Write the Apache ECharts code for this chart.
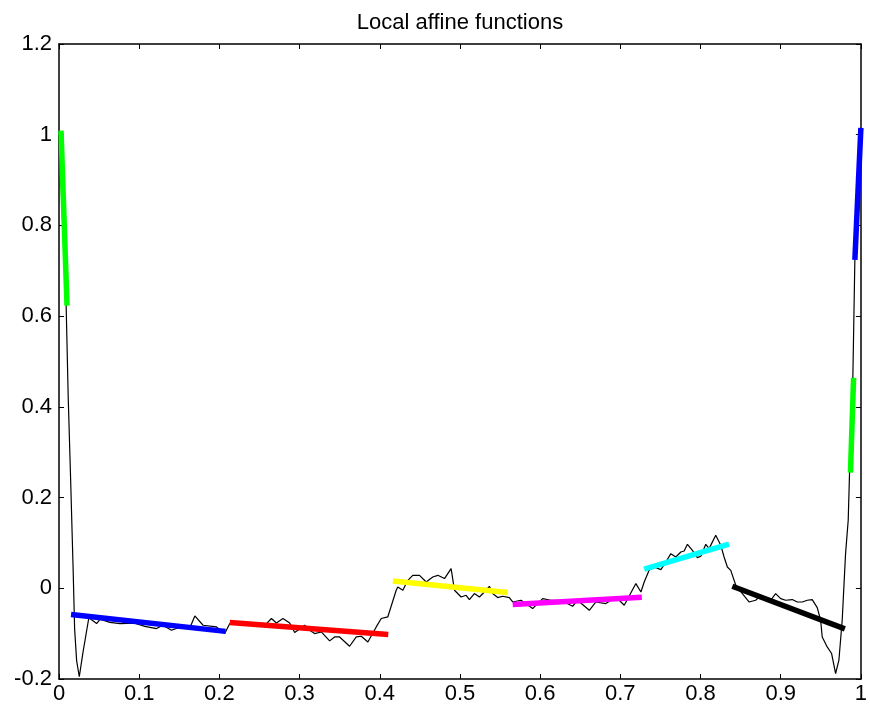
<!DOCTYPE html>
<html>
<head>
<meta charset="utf-8">
<script src="https://cdn.jsdelivr.net/npm/echarts@6/dist/echarts.min.js"></script>
<style>html,body{margin:0;padding:0;background:#fff;}#chart{width:870px;height:716px;}</style>
</head>
<body>
<div id="chart"></div>
<script>
// Noisy signal (thin black line)
const signalX = [0,0.0087,0.0115,0.0145,0.0175,0.0195,0.022,0.0253,0.030,0.0377,
0.0386,0.0469,0.0511,0.0635,0.076,0.0946,0.107,0.1217,0.1295,0.1403,0.1507,0.163,0.1694,0.1797,0.1964,0.2067,0.213,
0.240,0.2587,0.2649,0.2711,0.2793,0.2877,0.2939,0.3064,0.3126,0.3188,0.3271,0.3375,0.3437,0.3499,0.3624,0.3707,0.377,0.3852,0.3956,0.4019,0.41,0.4205,
0.4225,0.4288,0.435,0.4412,0.4496,0.4579,0.4661,0.4724,0.4807,0.489,0.4932,0.5015,0.5077,0.5118,0.518,0.5243,0.5305,0.5367,0.5408,0.5471,0.5533,0.5616,
0.5658,0.5762,0.5907,0.6031,0.6136,0.626,0.6405,0.6467,0.6613,0.6696,0.682,0.6945,0.7049,0.7194,0.7257,
0.7298,0.7359,0.7422,0.7506,0.7568,0.763,0.7692,0.7755,0.7796,0.7837,0.7899,0.7961,0.8004,0.8066,0.8107,0.819,0.8253,0.8294,0.8335,0.8377,
0.8440,0.8522,0.8605,0.8688,0.8751,0.8875,0.8937,0.9,0.9062,0.9144,0.9207,0.9269,0.9331,0.9393,0.9456,0.9498,0.9518,0.958,0.9635,0.9685,0.9726,0.9767,0.9809,0.9842,
0.9863,0.99,0.9925,0.9963,1.0];
const signalY = [1.0,0.64,0.42,0.24,0.05,-0.09,-0.16,-0.195,-0.14,-0.06,
-0.0667,-0.0778,-0.0683,-0.075,-0.0778,-0.077,-0.084,-0.0888,-0.0815,-0.0925,-0.086,-0.088,-0.061,-0.0815,-0.0852,-0.0998,-0.0778,
-0.0764,-0.0778,-0.0667,-0.0764,-0.0667,-0.0764,-0.0976,-0.0815,-0.0925,-0.0998,-0.0963,-0.116,-0.1073,-0.1073,-0.1278,-0.1073,-0.1057,-0.1183,-0.0852,-0.0667,-0.0632,-0.0044,
0.0029,-0.0044,0.0176,0.0286,0.0286,0.0139,0.0249,0.0286,0.0214,0.0434,-0.0044,-0.0192,-0.0154,-0.0249,-0.0117,-0.0192,-0.0081,0.0044,-0.0117,-0.0205,-0.0176,-0.0205,
-0.0302,-0.0264,-0.0447,-0.0227,-0.0264,-0.0264,-0.0396,-0.0264,-0.0485,-0.0302,-0.0337,-0.0192,-0.0374,0.0104,-0.0081,
0.0139,0.0396,0.0469,0.0412,0.0579,0.0764,0.0689,0.08,0.0822,0.0969,0.0837,0.0676,0.0705,0.0969,0.0874,0.1167,0.0947,0.0689,0.0469,0.0396,
0.0066,-0.0117,-0.0302,-0.0264,-0.0154,-0.0264,-0.0117,-0.0227,-0.0264,-0.0249,-0.0302,-0.0302,-0.0264,-0.0249,-0.0425,-0.0705,-0.1073,-0.1293,-0.1438,-0.1879,-0.1586,-0.0705,0.0764,0.15,
0.282,0.465,0.725,0.90,1.015];

// Local affine segments: start/end x, start/end y, colour
const segX0 = [0.0025,0.015,0.213,0.4163,0.5658,0.7298,0.8397,0.987,0.9925];
const segX1 = [0.010,0.2077,0.4106,0.5596,0.7268,0.8356,0.980,0.9909,1.0];
const segY0 = [1.009,-0.058,-0.0755,0.016,-0.036,0.042,0.0044,0.255,0.724];
const segY1 = [0.623,-0.095,-0.102,-0.0095,-0.0198,0.0976,-0.0896,0.464,1.015];
const segColors = ['#00ff00','#0000ff','#ff0000','#ffff00','#ff00ff','#00ffff','#000000','#00ff00','#0000ff'];

const xTicks = {min:0, max:1, interval:0.1};
const yTicks = {min:-0.2, max:1.2, interval:0.2};

const font = 'Liberation Sans, Arial, sans-serif';
const chart = echarts.init(document.getElementById('chart'), null, {renderer:'canvas'});

const series = [{
  type:'line', xAxisIndex:0, yAxisIndex:0,
  data: signalX.map((x,i)=>[x, signalY[i]]),
  showSymbol:false, symbol:'none',
  lineStyle:{color:'#000', width:1.2},
  z:2, silent:true
}];
for (let i=0;i<segX0.length;i++){
  series.push({
    type:'line', xAxisIndex:0, yAxisIndex:0,
    data:[[segX0[i],segY0[i]],[segX1[i],segY1[i]]],
    showSymbol:false, symbol:'none',
    lineStyle:{color:segColors[i], width:5.5, cap:'butt'},
    z:3, silent:true
  });
}

const axisCommon = {
  axisLine:{show:true, onZero:false, lineStyle:{color:'#000', width:1.5}},
  axisTick:{show:true, inside:true, length:5, lineStyle:{color:'#000', width:1}},
  splitLine:{show:false}
};

chart.setOption({
  animation:false,
  backgroundColor:'#fff',
  title:{text:'Local affine functions', left:455, top:7, textAlign:'center',
    textStyle:{fontFamily:font, fontSize:22, fontWeight:'normal', color:'#000'}},
  grid:{left:59, right:8, top:44, bottom:37, containLabel:false},
  xAxis:[
    Object.assign({type:'value', position:'bottom', min:xTicks.min, max:xTicks.max, interval:xTicks.interval,
      axisLabel:{fontFamily:font, fontSize:22, color:'#000', margin:4}}, axisCommon),
    Object.assign({type:'value', position:'top', min:xTicks.min, max:xTicks.max, interval:xTicks.interval,
      axisLabel:{show:false}}, axisCommon)
  ],
  yAxis:[
    Object.assign({type:'value', position:'left', min:yTicks.min, max:yTicks.max, interval:yTicks.interval,
      axisLabel:{fontFamily:font, fontSize:22, color:'#000', margin:7}}, axisCommon),
    Object.assign({type:'value', position:'right', min:yTicks.min, max:yTicks.max, interval:yTicks.interval,
      axisLabel:{show:false}}, axisCommon)
  ],
  series: series
});
</script>
</body>
</html>
